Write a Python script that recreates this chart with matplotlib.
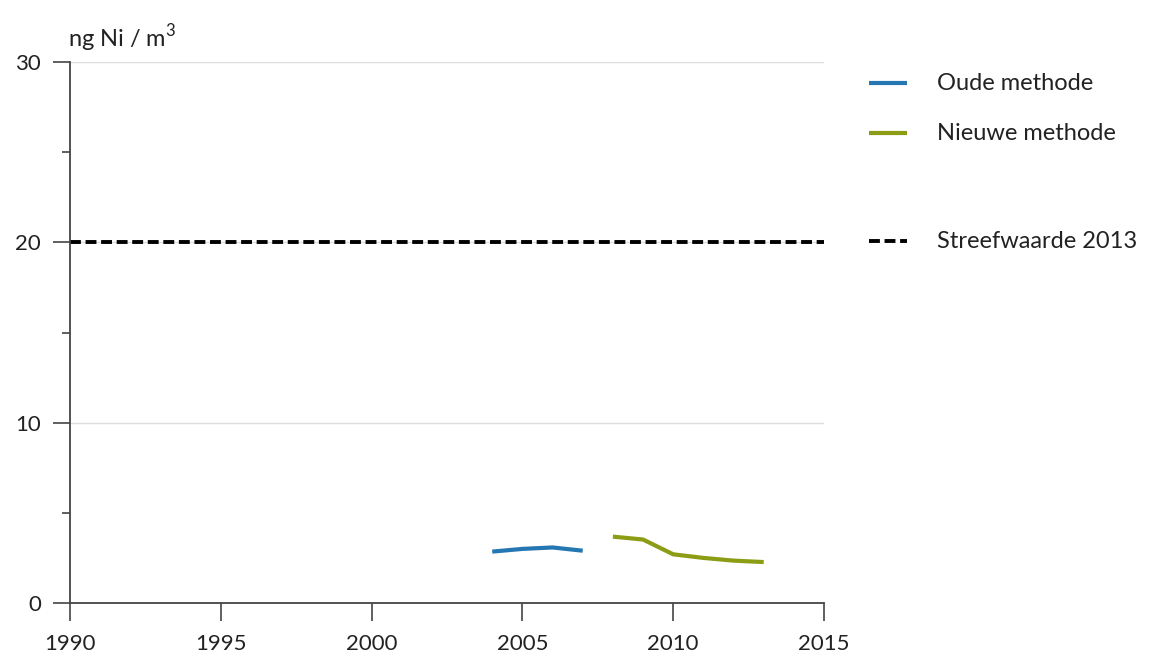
import matplotlib
matplotlib.use("Agg")
import matplotlib.pyplot as plt
from matplotlib.lines import Line2D

plt.rcParams['font.family'] = ['Lato', 'DejaVu Sans']
plt.rcParams['mathtext.fontset'] = 'custom'
plt.rcParams['mathtext.rm'] = 'Lato'

years_old = [2004, 2005, 2006, 2007]
values_old = [2.85, 3.0, 3.08, 2.9]
years_new = [2008, 2009, 2010, 2011, 2012, 2013]
values_new = [3.68, 3.52, 2.7, 2.5, 2.35, 2.27]
target_value = 20
x_ticks = [1990, 1995, 2000, 2005, 2010, 2015]
y_ticks = [0, 10, 20, 30]
y_minor = [5, 15, 25]
legend_labels = ['Oude methode', 'Nieuwe methode', 'Streefwaarde 2013']
y_unit = 'ng Ni / m$^{\\mathregular{3}}$'

blue = '#2577b3'
green = '#8c9c14'
axis_col = '#444444'
grid_col = '#dddddd'
text_col = '#222222'

fig = plt.figure(figsize=(11.67, 6.57), dpi=100)
ax = fig.add_axes([70/1167, 54/657, (824-70)/1167, (603-62)/657])

ax.set_xlim(1990, 2015)
ax.set_ylim(0, 30)

ax.set_yticks(y_ticks)
ax.set_yticks(y_minor, minor=True)
ax.set_xticks(x_ticks)
ax.set_yticklabels([str(v) for v in y_ticks])
ax.set_xticklabels([str(v) for v in x_ticks])

for v in y_ticks[1:]:
    ax.axhline(v, color=grid_col, lw=1.0, zorder=0)

for s in ['top', 'right']:
    ax.spines[s].set_visible(False)
for s in ['left', 'bottom']:
    ax.spines[s].set_color(axis_col)
    ax.spines[s].set_linewidth(1.3)

ax.tick_params(axis='y', which='major', length=12, width=1.2, color=axis_col,
               labelsize=16, pad=9, labelcolor=text_col)
ax.tick_params(axis='y', which='minor', length=6, width=1.2, color=axis_col)
ax.tick_params(axis='x', which='major', length=13, width=1.2, color=axis_col,
               labelsize=16, pad=9, labelcolor=text_col)

dash = (2.8, 1.2)
ax.plot(years_old, values_old, color=blue, lw=3, solid_capstyle='butt', zorder=3)
ax.plot(years_new, values_new, color=green, lw=3, solid_capstyle='butt', zorder=3)
ax.axhline(target_value, color='black', lw=2.8, dashes=dash,
           dash_capstyle='butt', zorder=2)

ax.text(-0.002, 1.028, y_unit, transform=ax.transAxes, fontsize=17,
        ha='left', va='baseline', color=text_col)

# legend
W, H = 1167, 657
def fy(y):
    return 1 - y / H
entries = [(83, dict(color=blue, lw=3, solid_capstyle='butt')),
           (133, dict(color=green, lw=3, solid_capstyle='butt')),
           (241, dict(color='black', lw=2.8, dashes=dash, dash_capstyle='butt'))]
for (y, style), label in zip(entries, legend_labels):
    fig.add_artist(Line2D([869/W, 907/W], [fy(y), fy(y)], transform=fig.transFigure, **style))
    fig.text(937/W, fy(y), label, fontsize=17, ha='left', va='center', color=text_col)

fig.savefig('out.png', dpi=100)
